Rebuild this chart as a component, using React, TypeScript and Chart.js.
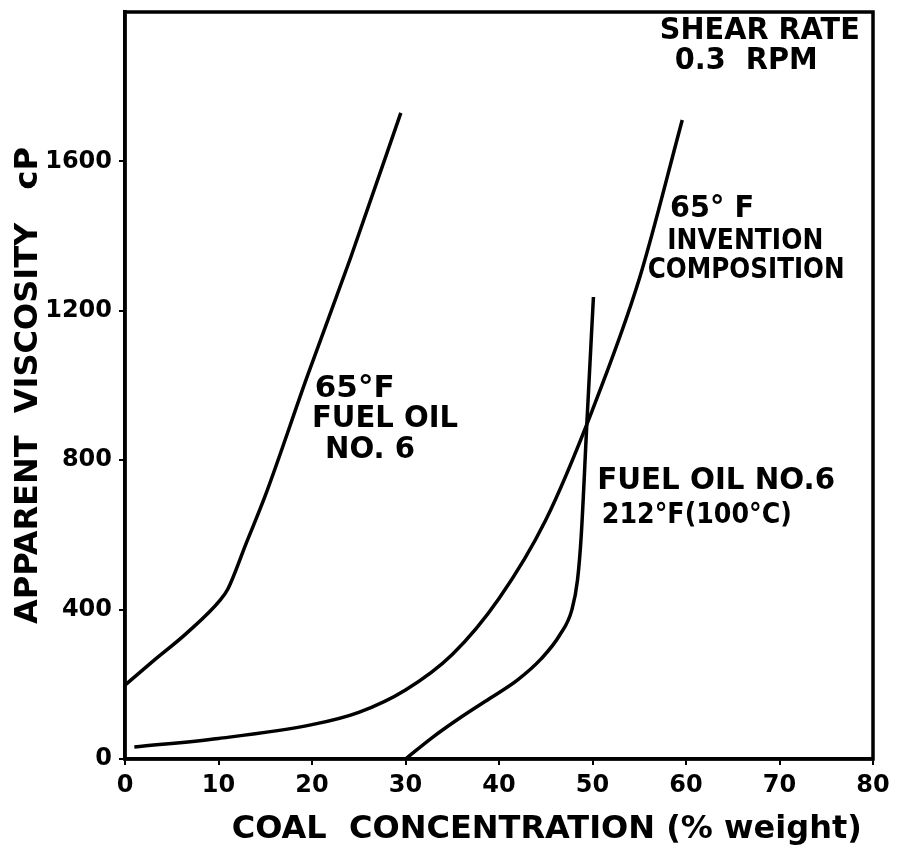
import React, { useEffect, useRef } from 'react';
import { Chart, registerables } from 'chart.js';

Chart.register(...registerables);

// Coal concentration (% weight) and apparent viscosity (cP)
const fuel65X = [0, 3, 6.6, 10.2, 11, 13, 15, 19.5, 24.1, 29.5];
const fuel65Y = [198, 262, 337, 426, 455, 580, 705, 1025, 1340, 1730];

const invX = [1, 10, 20, 25, 30, 35, 40, 45, 50, 55, 59.6];
const invY = [32, 55, 92, 125, 185, 280, 430, 640, 935, 1285, 1711];

const hot212X = [30, 33, 36, 39, 42, 44.5, 46.5, 47.8, 48.4, 48.8, 49.4, 50.1];
const hot212Y = [0, 60, 113, 162, 212, 268, 332, 400, 480, 600, 900, 1237];

const xTicks = [0, 10, 20, 30, 40, 50, 60, 70, 80];
const yTicks = [0, 400, 800, 1200, 1600];

const X_MIN = 0;
const X_MAX = 80;
const Y_MIN = 0;
const Y_MAX = 2000;

const FONT = "'DejaVu Sans', sans-serif";

type Note = { text: string; x: number; y: number; size: number; width: number };

// Hand-lettered annotations (left edge x, vertical centre y, in data units)
const notes: Note[] = [
  { text: 'SHEAR RATE', x: 57.2, y: 1957, size: 30, width: 200 },
  { text: '0.3  RPM', x: 58.8, y: 1877, size: 30, width: 143 },
  { text: '65° F', x: 58.3, y: 1481, size: 31, width: 84 },
  { text: 'INVENTION', x: 58.0, y: 1395, size: 29, width: 156 },
  { text: 'COMPOSITION', x: 55.9, y: 1315, size: 29, width: 197 },
  { text: '65°F', x: 20.3, y: 999, size: 31, width: 82 },
  { text: 'FUEL OIL', x: 20.0, y: 918, size: 30, width: 146 },
  { text: 'NO. 6', x: 21.4, y: 835, size: 30, width: 90 },
  { text: 'FUEL OIL NO.6', x: 50.5, y: 752, size: 30, width: 238 },
  { text: '212°F(100°C)', x: 51.0, y: 661, size: 29, width: 190 },
];

const toPoints = (xs: number[], ys: number[]) => xs.map((x, i) => ({ x, y: ys[i] }));

const framePlugin = {
  id: 'frameAndNotes',
  afterDraw(chart: any) {
    const { ctx, chartArea, scales } = chart;
    ctx.save();
    ctx.strokeStyle = '#000';
    ctx.lineWidth = 3.5;
    ctx.strokeRect(chartArea.left, chartArea.top, chartArea.right - chartArea.left, chartArea.bottom - chartArea.top);

    ctx.fillStyle = '#000';
    ctx.textAlign = 'left';
    ctx.textBaseline = 'alphabetic';
    for (const n of notes) {
      ctx.font = `bold ${n.size}px ${FONT}`;
      const px = scales.x.getPixelForValue(n.x);
      const py = scales.y.getPixelForValue(n.y) + n.size * 0.365;
      ctx.fillText(n.text, px, py, n.width);
    }
    ctx.restore();
  },
};

export default function App() {
  const ref = useRef<HTMLCanvasElement | null>(null);

  useEffect(() => {
    if (!ref.current) return;
    const lineStyle = {
      borderColor: '#000',
      borderWidth: 3.5,
      pointRadius: 0,
      fill: false,
      cubicInterpolationMode: 'monotone' as const,
    };
    const tickFont = { family: FONT, size: 24, weight: 'bold' as const };
    const chart = new Chart(ref.current, {
      type: 'line',
      data: {
        datasets: [
          { label: '65°F Fuel oil No. 6', data: toPoints(fuel65X, fuel65Y), ...lineStyle },
          { label: '65°F Invention composition', data: toPoints(invX, invY), ...lineStyle },
          { label: 'Fuel oil No. 6 212°F (100°C)', data: toPoints(hot212X, hot212Y), ...lineStyle },
        ],
      },
      options: {
        animation: false,
        responsive: false,
        layout: { padding: { top: 12, right: 25, left: 0, bottom: 0 } },
        plugins: { legend: { display: false }, tooltip: { enabled: false } },
        scales: {
          x: {
            type: 'linear',
            min: X_MIN,
            max: X_MAX,
            afterFit: (s: any) => {
              s.height = 99;
              s.paddingLeft = 0;
              s.paddingRight = 0;
            },
            afterBuildTicks: (s: any) => {
              s.ticks = xTicks.map((v) => ({ value: v }));
            },
            grid: { drawOnChartArea: false, drawTicks: true, tickLength: 6, color: '#000', lineWidth: 2 },
            border: { display: true, color: '#000', width: 3.5 },
            ticks: {
              color: '#000',
              font: tickFont,
              padding: 6,
              maxRotation: 0,
              autoSkip: false,
              callback: (v: any) => String(v),
            },
            title: {
              display: true,
              text: 'COAL  CONCENTRATION (% weight) ',
              align: 'end',
              color: '#000',
              font: { family: FONT, size: 32, weight: 'bold' },
              padding: { top: 0, bottom: 9 },
            },
          },
          y: {
            type: 'linear',
            min: Y_MIN,
            max: Y_MAX,
            afterFit: (s: any) => {
              s.width = 125;
              s.paddingTop = 0;
              s.paddingBottom = 0;
            },
            afterBuildTicks: (s: any) => {
              s.ticks = yTicks.map((v) => ({ value: v }));
            },
            grid: { drawOnChartArea: false, drawTicks: true, tickLength: 6, color: '#000', lineWidth: 2 },
            border: { display: true, color: '#000', width: 3.5 },
            ticks: {
              color: '#000',
              font: tickFont,
              padding: 7,
              autoSkip: false,
              callback: (v: any) => String(v),
            },
            title: {
              display: true,
              text: 'APPARENT  VISCOSITY   cP',
              color: '#000',
              font: { family: FONT, size: 32, weight: 'bold' },
              padding: { top: 9, bottom: 0 },
            },
          },
        },
      },
      plugins: [framePlugin],
    });
    return () => chart.destroy();
  }, []);

  return (
    <div style={{ position: 'absolute', left: 0, top: 0, width: 898, height: 858, background: '#fff' }}>
      <canvas ref={ref} width={898} height={858} style={{ display: 'block' }} />
    </div>
  );
}
